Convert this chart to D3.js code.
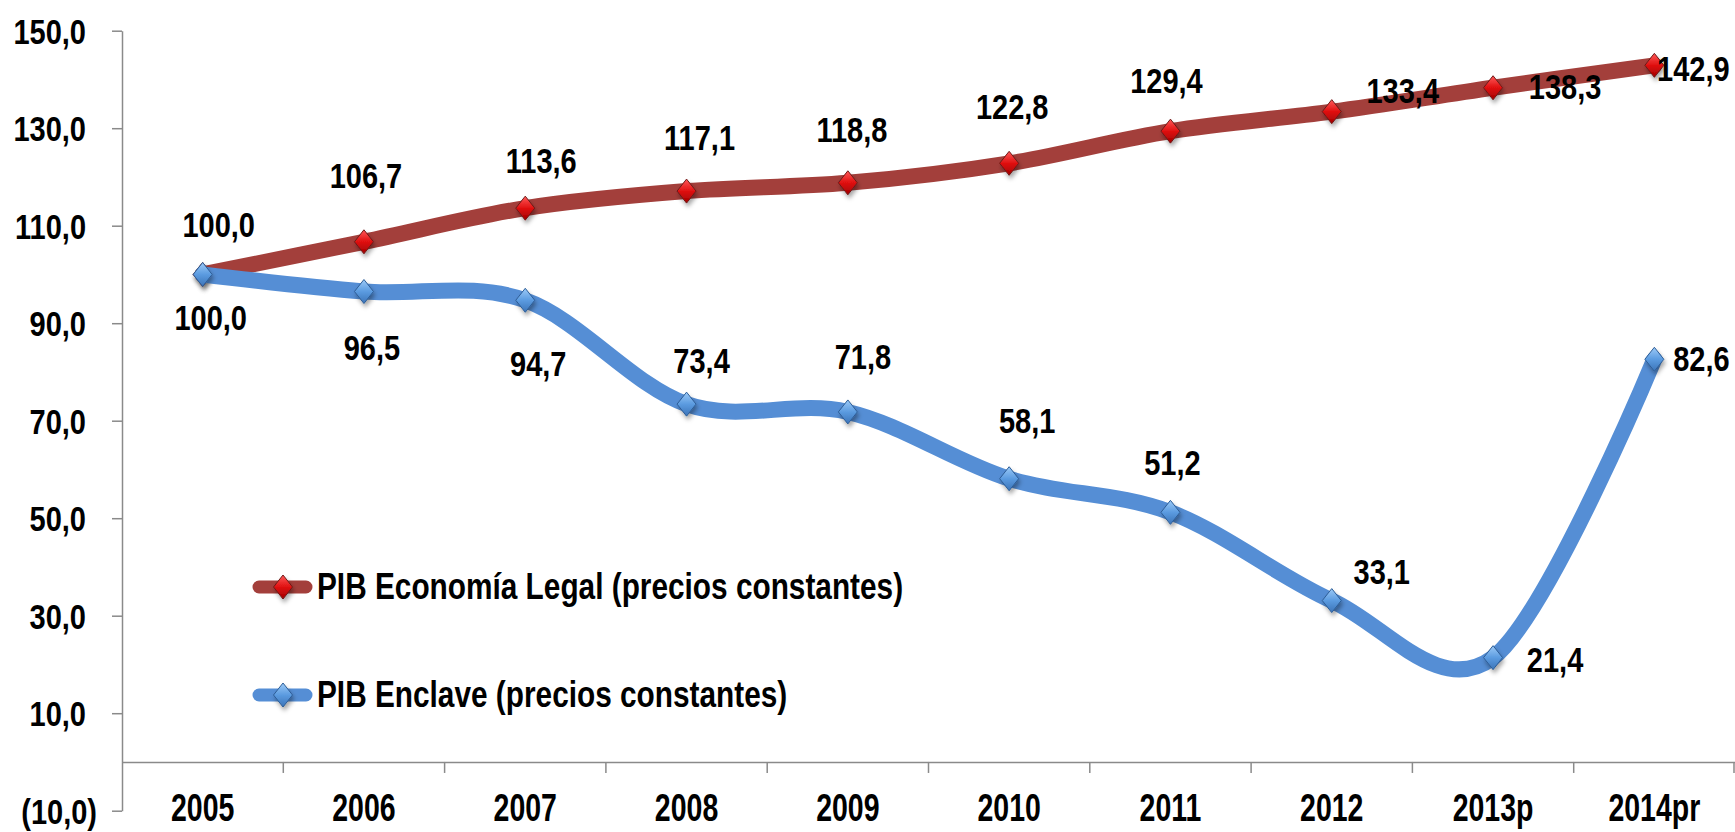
<!DOCTYPE html>
<html><head><meta charset="utf-8">
<script src="https://cdn.jsdelivr.net/npm/d3@7"></script>
<style>
html,body{margin:0;padding:0;background:#fff;overflow:hidden}
text{font-family:"Liberation Sans",Arial,sans-serif;font-weight:bold;fill:#000}
</style>
</head><body>
<svg id="chart" width="1735" height="832"></svg>
<script>
// ---- data ----
const categories = ["2005","2006","2007","2008","2009","2010","2011","2012","2013p","2014pr"];
const legalValues = [100.0,106.7,113.6,117.1,118.8,122.8,129.4,133.4,138.3,142.9];
const enclaveValues = [100.0,96.5,94.7,73.4,71.8,58.1,51.2,33.1,21.4,82.6];
const yTicks = [-10,10,30,50,70,90,110,130,150];
const seriesNames = ["PIB Economía Legal (precios constantes)","PIB Enclave (precios constantes)"];

// ---- layout (label centre offsets from each point, px) ----
const legalLabelOffsets = [[16,-50],[2,-66],[16,-48],[13,-54],[4,-53],[3,-57],[-4,-51],[71,-21],[72,-1],[39,3]];
const enclaveLabelOffsets = [[8,43],[8,56],[13,63],[15,-44],[15,-55],[18,-58],[2,-50],[50,-29],[62,2],[47,-1]];

const W = 1735, H = 832;
const svg = d3.select("#chart");
const defs = svg.append("defs");

const flt = defs.append("filter").attr("id","shadow").attr("x","-50%").attr("y","-50%").attr("width","200%").attr("height","200%");
flt.append("feDropShadow").attr("dx",1.5).attr("dy",3.5).attr("stdDeviation",2).attr("flood-color","#000").attr("flood-opacity",0.35);

function grad(id, c1, c2, c3){
  const g = defs.append("linearGradient").attr("id",id).attr("x1","0").attr("y1","0").attr("x2","0").attr("y2","1");
  g.append("stop").attr("offset","0").attr("stop-color",c1);
  g.append("stop").attr("offset","0.5").attr("stop-color",c2);
  g.append("stop").attr("offset","1").attr("stop-color",c3);
}
grad("gRed","#ff5a5a","#e01010","#a00000");
grad("gBlue","#9ccaf7","#5b9be0","#3c74b8");

const x = d3.scaleBand().domain(categories).range([122, W]);
const y = d3.scaleLinear().domain([-10,150]).range([810.7, 30.7]);
const cx = c => x(c) + x.bandwidth()/2;

const fmt = d => { const s = d3.format(".1f")(Math.abs(d)).replace(".",","); return d < 0 ? "(" + s + ")" : s; };

// ---- y axis ----
const yAxis = svg.append("g").attr("transform","translate(122,0)")
  .call(d3.axisLeft(y).tickValues(yTicks).tickSize(10).tickSizeOuter(0).tickFormat(fmt));
yAxis.select(".domain").attr("stroke","#8a8a8a").attr("stroke-width",1.5);
yAxis.selectAll(".tick line").attr("stroke","#8a8a8a").attr("stroke-width",1.5);
yAxis.selectAll(".tick text")
  .attr("x",null).attr("dy",null).attr("y",null)
  .attr("text-anchor","end").attr("font-size","29px").attr("font-family",null)
  .attr("transform", d => `translate(${d < 0 ? -25 : -36},12.5) scale(1,1.21)`);

// ---- x axis (at value 0) ----
const x0 = y(0);
const xAxis = svg.append("g").attr("transform",`translate(0,${x0})`)
  .call(d3.axisBottom(x).tickSize(0).tickSizeOuter(0));
xAxis.select(".domain").attr("stroke","#8a8a8a").attr("stroke-width",1.5);
xAxis.selectAll(".tick text")
  .attr("y",null).attr("dy",null)
  .attr("font-size","28.5px").attr("font-family",null)
  .attr("transform",`translate(0,${821 - x0}) scale(1,1.34)`);
const bounds = categories.slice(1).map(c => x(c)).concat([x.range()[1] - 1]);
xAxis.selectAll("line.btick").data(bounds).enter().append("line").attr("class","btick")
  .attr("x1",d=>d).attr("x2",d=>d).attr("y1",0).attr("y2",11)
  .attr("stroke","#8a8a8a").attr("stroke-width",1.5);

// ---- series ----
const series = [
  {name:seriesNames[0], values:legalValues, offsets:legalLabelOffsets, line:"#a33f3b", fill:"url(#gRed)", stroke:"#6e1a18"},
  {name:seriesNames[1], values:enclaveValues, offsets:enclaveLabelOffsets, line:"#558ed5", fill:"url(#gBlue)", stroke:"#2d5d96"}
];
const diamond = "M0,-12L9.5,0L0,12L-9.5,0Z";
const lineGen = d3.line().x((d,i)=>cx(categories[i])).y(d=>y(d)).curve(d3.curveCatmullRom.alpha(0));

series.forEach(s => {
  const g = svg.append("g");
  g.append("path").attr("d", lineGen(s.values)).attr("fill","none")
    .attr("stroke", s.line).attr("stroke-width",16).attr("stroke-linecap","round").attr("stroke-linejoin","round");
  g.selectAll("path.mk").data(s.values).enter().append("path").attr("class","mk")
    .attr("d", diamond)
    .attr("transform",(d,i)=>`translate(${cx(categories[i])},${y(d)})`)
    .attr("fill", s.fill).attr("stroke", s.stroke).attr("stroke-width",1)
    .attr("filter","url(#shadow)");
});

// data labels on top
series.forEach(s => {
  svg.append("g").selectAll("text").data(s.values).enter().append("text")
    .attr("text-anchor","middle").attr("font-size","29px")
    .attr("transform",(d,i)=>`translate(${cx(categories[i]) + s.offsets[i][0]},${y(d) + s.offsets[i][1] + 12.5}) scale(1,1.21)`)
    .text(d => fmt(d));
});

// ---- legend ----
const legendY = [587, 695];
series.forEach((s,k) => {
  const g = svg.append("g").attr("transform",`translate(0,${legendY[k]})`);
  g.append("line").attr("x1",259).attr("x2",306).attr("y1",0).attr("y2",0)
    .attr("stroke",s.line).attr("stroke-width",13).attr("stroke-linecap","round");
  g.append("path").attr("d",diamond).attr("transform","translate(283,0)")
    .attr("fill",s.fill).attr("stroke",s.stroke).attr("stroke-width",1).attr("filter","url(#shadow)");
  g.append("text").attr("font-size","29.8px")
    .attr("transform","translate(317,11.5) scale(1,1.22)")
    .text(s.name);
});
</script>
</body></html>
